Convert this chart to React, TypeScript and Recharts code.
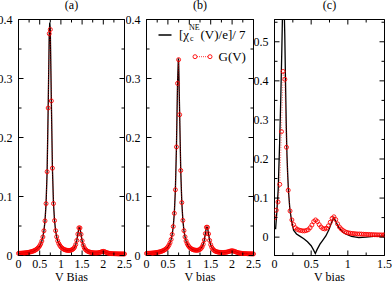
import React from 'react';
import { LineChart, Line, XAxis, YAxis, ReferenceLine } from 'recharts';

// bias grid shared by panels (a) and (b)
const biasGrid = [
  0, 0.025, 0.05, 0.075, 0.1, 0.125, 0.15, 0.175, 0.2, 0.225, 0.25, 0.275, 0.3, 0.325, 0.35, 0.375, 0.4, 0.425, 0.45, 0.475,
  0.5, 0.525, 0.55, 0.575, 0.6, 0.625, 0.65, 0.675, 0.7, 0.725, 0.75, 0.775, 0.8, 0.825, 0.85, 0.875, 0.9, 0.925, 0.95, 0.975,
  1, 1.025, 1.05, 1.075, 1.1, 1.125, 1.15, 1.175, 1.2, 1.225, 1.25, 1.275, 1.3, 1.325, 1.35, 1.375, 1.4, 1.425, 1.45, 1.475,
  1.5, 1.525, 1.55, 1.575, 1.6, 1.625, 1.65, 1.675, 1.7, 1.725, 1.75, 1.775, 1.8, 1.825, 1.85, 1.875, 1.9, 1.925, 1.95, 1.975,
  2, 2.025, 2.05, 2.075, 2.1, 2.125, 2.15, 2.175, 2.2, 2.225, 2.25, 2.275, 2.3, 2.325, 2.35, 2.375, 2.4, 2.425, 2.45, 2.475, 2.5,
];

// panel (a): G(V)
const gA = [
  0.0036, 0.0037, 0.0038, 0.004, 0.0041, 0.0043, 0.0045, 0.0047, 0.005, 0.0052, 0.0056, 0.006, 0.0064, 0.007, 0.0076, 0.0083, 0.0093, 0.0105, 0.012, 0.0139,
  0.0164, 0.0198, 0.0245, 0.0314, 0.0419, 0.0587, 0.0879, 0.142, 0.25, 0.376, 0.383, 0.262, 0.148, 0.088, 0.0592, 0.0421, 0.0317, 0.0248, 0.0203, 0.017,
  0.0145, 0.0127, 0.0114, 0.0103, 0.0096, 0.0091, 0.0087, 0.0085, 0.0085, 0.0088, 0.0093, 0.0103, 0.0118, 0.0143, 0.0186, 0.0256, 0.0363, 0.0469, 0.0467, 0.0359,
  0.025, 0.0177, 0.0133, 0.0105, 0.0087, 0.0074, 0.0065, 0.0059, 0.0054, 0.005, 0.0048, 0.0046, 0.0045, 0.0044, 0.0045, 0.0046, 0.0049, 0.0054, 0.006, 0.0067,
  0.007, 0.0066, 0.0058, 0.005, 0.0044, 0.0039, 0.0036, 0.0034, 0.0032, 0.0031, 0.003, 0.0029, 0.0029, 0.0028, 0.0028, 0.0027, 0.0027, 0.0027, 0.0026, 0.0026, 0.0026,
];
// chi line has an extra sample at the top of the main peak
const chiPeakBiasA = [0.7375];
const chiPeakA = [0.395];

// panel (b): G(V)
const gB = [
  0.0035, 0.0036, 0.0037, 0.0038, 0.004, 0.0041, 0.0043, 0.0045, 0.0047, 0.005, 0.0053, 0.0056, 0.006, 0.0065, 0.0071, 0.0078, 0.0086, 0.0096, 0.0109, 0.0126,
  0.0147, 0.0176, 0.0216, 0.0272, 0.0357, 0.0491, 0.0715, 0.1114, 0.184, 0.2917, 0.3319, 0.2386, 0.1441, 0.0897, 0.0595, 0.0421, 0.0316, 0.0247, 0.0201, 0.0168,
  0.0144, 0.0126, 0.0113, 0.0103, 0.0096, 0.0092, 0.0089, 0.0088, 0.009, 0.0095, 0.0104, 0.0121, 0.0147, 0.019, 0.0262, 0.037, 0.0479, 0.0478, 0.0366, 0.0255,
  0.0183, 0.0138, 0.0109, 0.0089, 0.0076, 0.0068, 0.0062, 0.0057, 0.0054, 0.0052, 0.0051, 0.005, 0.0051, 0.0052, 0.0054, 0.0057, 0.0062, 0.0068, 0.0073, 0.0078,
  0.008, 0.0077, 0.0071, 0.0064, 0.0057, 0.0051, 0.0046, 0.0042, 0.0039, 0.0037, 0.0035, 0.0033, 0.0032, 0.0031, 0.003, 0.0029, 0.0029, 0.0028, 0.0028, 0.0027, 0.0027,
];
const chiPeakBiasB = [0.744];
const chiPeakB = [0.334];

// panel (c)
const chiBiasC = [
  0.015, 0.03, 0.05, 0.07, 0.085, 0.1, 0.11, 0.12, 0.13, 0.14, 0.15, 0.16, 0.17, 0.18, 0.19, 0.21, 0.235, 0.26, 0.3, 0.35,
  0.4, 0.45, 0.5, 0.53, 0.557, 0.58, 0.62, 0.65, 0.7, 0.74, 0.78, 0.81, 0.84, 0.88, 0.93, 0.97, 1.05, 1.15, 1.25, 1.35, 1.5,
];
const chiC = [
  0.02, 0.06, 0.12, 0.24, 0.35, 0.48, 0.58, 0.63, 0.6, 0.52, 0.4, 0.29, 0.21, 0.16, 0.12, 0.07, 0.04, 0.018, 0.008, 0.002,
  -0.004, -0.012, -0.022, -0.032, -0.042, -0.032, -0.018, -0.01, 0.003, 0.018, 0.038, 0.05, 0.038, 0.024, 0.013, 0.008, 0.002, -0.001, 0, 0.002, 0.003,
];
const gBiasC = [
  0, 0.024, 0.048, 0.072, 0.095, 0.118, 0.141, 0.163, 0.187, 0.212, 0.237, 0.26, 0.285, 0.31, 0.335, 0.36, 0.385, 0.41, 0.435, 0.46,
  0.485, 0.51, 0.535, 0.56, 0.585, 0.61, 0.635, 0.66, 0.685, 0.71, 0.735, 0.76, 0.785, 0.81, 0.835, 0.86, 0.885, 0.91, 0.935, 0.96,
  0.985, 1.01, 1.035, 1.06, 1.085, 1.11, 1.135, 1.16, 1.185, 1.21, 1.235, 1.26, 1.285, 1.31, 1.335, 1.36, 1.385, 1.41, 1.435, 1.46, 1.485, 1.5,
];
const gC = [
  0.05, 0.069, 0.09, 0.135, 0.27, 0.424, 0.404, 0.23, 0.12, 0.067, 0.044, 0.032, 0.024, 0.02, 0.018, 0.017, 0.016, 0.016, 0.017, 0.019,
  0.024, 0.031, 0.04, 0.044, 0.04, 0.032, 0.026, 0.022, 0.021, 0.023, 0.029, 0.038, 0.048, 0.052, 0.045, 0.034, 0.026, 0.021, 0.017, 0.014,
  0.012, 0.011, 0.01, 0.0095, 0.009, 0.0085, 0.008, 0.008, 0.0078, 0.0075, 0.0072, 0.007, 0.0068, 0.0066, 0.0064, 0.0062, 0.006, 0.0058, 0.0057, 0.0056, 0.0055, 0.0055,
];

// ticks (minor + major)
const xTicksAB = [0, 0.25, 0.5, 0.75, 1, 1.25, 1.5, 1.75, 2, 2.25, 2.5];
const yTicksAB = [0, 0.05, 0.1, 0.15, 0.2, 0.25, 0.3, 0.35, 0.4];
const xTicksC = [0, 0.25, 0.5, 0.75, 1, 1.25, 1.5];
const yTicksC = [0, 0.05, 0.1, 0.15, 0.2, 0.25, 0.3, 0.35, 0.4, 0.45, 0.5, 0.55];

const FONT = '"Liberation Serif", "Times New Roman", "DejaVu Serif", serif';
const H = 282;
const TOP = 19.5;
const BOTTOM_AXIS = 26.5;

type Pt = { x: number; y: number };
const toPoints = (xs: number[], ys: number[]): Pt[] => xs.map((x, i) => ({ x, y: ys[i] }));
const withPeak = (base: Pt[], extra: Pt[]) => [...base, ...extra].sort((p, q) => p.x - q.x);

const isMajor = (v: number, step: number) => Math.abs(v / step - Math.round(v / step)) < 1e-6;
const fmt = (v: number) => String(Number(v.toFixed(2)));

// bottom axis tick: inward mark at bottom + mirrored mark at top, label on majors
const xTick = (step: number, plotH: number) => (props: any) => {
  const { x, y, payload } = props;
  const v = payload.value as number;
  const major = isMajor(v, step);
  const len = major ? 5 : 3;
  return (
    <g>
      <g stroke="#000" strokeWidth={1}>
        <line x1={x} y1={y} x2={x} y2={y - len} />
        <line x1={x} y1={y - plotH} x2={x} y2={y - plotH + len} />
      </g>
      {major ? (
        <text x={x} y={y + 12.5} textAnchor="middle" fontSize={12} fontFamily={FONT} fill="#000">
          {fmt(v)}
        </text>
      ) : null}
    </g>
  );
};

// left axis tick: inward mark at left + mirrored mark at right
const yTick = (step: number, plotW: number) => (props: any) => {
  const { x, y, payload } = props;
  const v = payload.value as number;
  const major = isMajor(v, step);
  const len = major ? 5 : 3;
  return (
    <g>
      <g stroke="#000" strokeWidth={1}>
        <line x1={x} y1={y} x2={x + len} y2={y} />
        <line x1={x + plotW} y1={y} x2={x + plotW - len} y2={y} />
      </g>
      {major ? (
        <text x={x - 6} y={y + 4} textAnchor="end" fontSize={12} fontFamily={FONT} fill="#000">
          {fmt(v)}
        </text>
      ) : null}
    </g>
  );
};

interface PanelProps {
  left: number;
  width: number;
  plotLeft: number;
  plotRight: number;
  xDomain: [number, number];
  yDomain: [number, number];
  xTicks: number[];
  yTicks: number[];
  chi: Pt[];
  g: Pt[];
  clip?: boolean;
}

const Panel: React.FC<PanelProps> = ({ left, width, plotLeft, plotRight, xDomain, yDomain, xTicks, yTicks, chi, g, clip = false }) => {
  const plotW = plotRight - plotLeft;
  const plotH = H - TOP - BOTTOM_AXIS;
  return (
    <div style={{ position: 'absolute', left, top: 0 }}>
      <LineChart width={width} height={H} margin={{ top: TOP, right: width - plotRight, bottom: 0, left: 0 }}>
        <XAxis
          dataKey="x"
          type="number"
          domain={xDomain}
          ticks={xTicks}
          interval={0}
          height={BOTTOM_AXIS}
          tickSize={0}
          tickMargin={0}
          allowDataOverflow={clip}
          axisLine={{ stroke: '#000' }}
          tickLine={false}
          tick={xTick(0.5, plotH)}
        />
        <YAxis
          type="number"
          domain={yDomain}
          ticks={yTicks}
          interval={0}
          width={plotLeft}
          tickSize={0}
          tickMargin={0}
          allowDataOverflow={clip}
          axisLine={{ stroke: '#000' }}
          tickLine={false}
          tick={yTick(0.1, plotW)}
        />
        {/* plot frame */}
        <ReferenceLine x={xDomain[0]} stroke="#000" ifOverflow="visible" />
        <ReferenceLine x={xDomain[1]} stroke="#000" ifOverflow="visible" />
        <ReferenceLine y={yDomain[0]} stroke="#000" ifOverflow="visible" />
        <ReferenceLine y={yDomain[1]} stroke="#000" ifOverflow="visible" />
        <Line
          data={chi}
          dataKey="y"
          type="linear"
          stroke="#000"
          strokeWidth={1.3}
          dot={false}
          activeDot={false}
          isAnimationActive={false}
        />
        <Line
          data={g}
          dataKey="y"
          type="linear"
          stroke="#ff0000"
          strokeWidth={0.6}
          strokeDasharray="1 1.5"
          dot={{ r: 2, stroke: '#ff0000', strokeWidth: 0.9, fill: 'none', strokeDasharray: '' }}
          activeDot={false}
          isAnimationActive={false}
        />
      </LineChart>
    </div>
  );
};

const ptsA = toPoints(biasGrid, gA);
const ptsB = toPoints(biasGrid, gB);

export default function App() {
  return (
    <div style={{ position: 'absolute', left: 0, top: 0, width: 392, height: 282, background: '#fff' }}>
      <Panel
        left={0}
        width={134}
        plotLeft={18.5}
        plotRight={124.5}
        xDomain={[0, 2.5]}
        yDomain={[0, 0.4]}
        xTicks={xTicksAB}
        yTicks={yTicksAB}
        chi={withPeak(ptsA, toPoints(chiPeakBiasA, chiPeakA))}
        g={ptsA}
      />
      <Panel
        left={126}
        width={140}
        plotLeft={20.5}
        plotRight={127.5}
        xDomain={[0, 2.5]}
        yDomain={[0, 0.4]}
        xTicks={xTicksAB}
        yTicks={yTicksAB}
        chi={withPeak(ptsB, toPoints(chiPeakBiasB, chiPeakB))}
        g={ptsB}
      />
      <Panel
        left={250}
        width={142}
        plotLeft={24.5}
        plotRight={134.5}
        xDomain={[0, 1.5]}
        yDomain={[-0.047, 0.557]}
        xTicks={xTicksC}
        yTicks={yTicksC}
        chi={toPoints(chiBiasC, chiC)}
        g={toPoints(gBiasC, gC)}
        clip
      />
      <svg
        width={392}
        height={282}
        style={{ position: 'absolute', left: 0, top: 0, pointerEvents: 'none' }}
        fontFamily={FONT}
      >
        <text x={71.5} y={9} fontSize={12} textAnchor="middle">(a)</text>
        <text x={200} y={9} fontSize={12} textAnchor="middle">(b)</text>
        <text x={329.5} y={9} fontSize={12} textAnchor="middle">(c)</text>
        <text x={71.5} y={280.5} fontSize={12} textAnchor="middle">V Bias</text>
        <text x={200} y={280.5} fontSize={12} textAnchor="middle">V bias</text>
        <text x={329.5} y={280.5} fontSize={12} textAnchor="middle">V bias</text>
        <line x1={158.5} y1={35} x2={171.5} y2={35} stroke="#000" strokeWidth={1.5} />
        <text y={38.5} fontSize={13}>
          <tspan x={179}>[χ</tspan>
          <tspan x={190} dy={2.5} fontSize={8}>c</tspan>
          <tspan x={189} dy={-11} fontSize={8}>NE</tspan>
          <tspan x={200.5} dy={8.5}>(V)/e]/ 7</tspan>
        </text>
        <line x1={197} y1={56.7} x2={208} y2={56.7} stroke="#ff0000" strokeWidth={0.8} strokeDasharray="1 1" />
        <circle cx={195} cy={56.7} r={2} fill="none" stroke="#ff0000" strokeWidth={0.9} />
        <circle cx={210} cy={56.7} r={2} fill="none" stroke="#ff0000" strokeWidth={0.9} />
        <text x={218.5} y={61} fontSize={13}>G(V)</text>
      </svg>
    </div>
  );
}
